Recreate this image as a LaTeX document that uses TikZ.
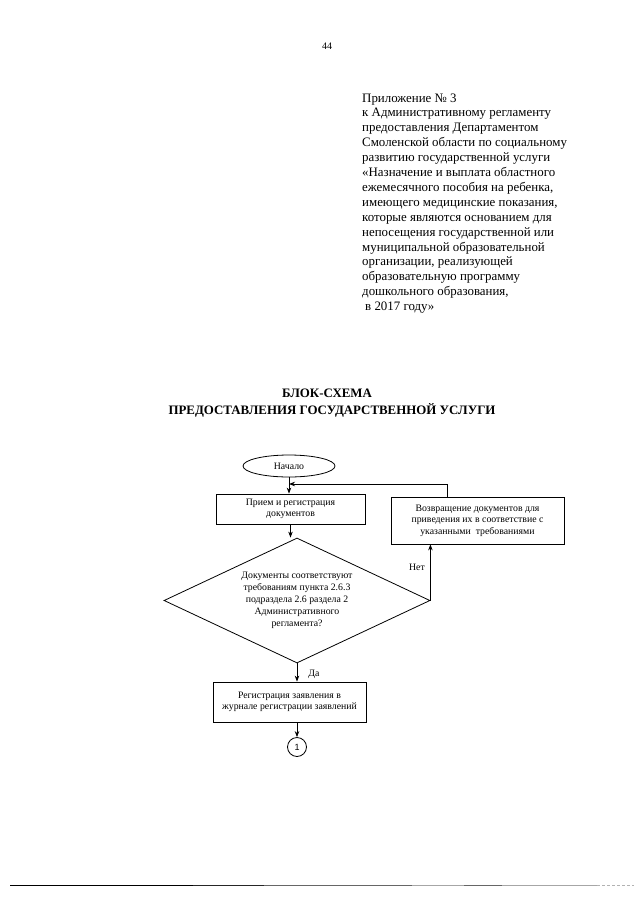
\documentclass[tikz,border=0pt]{standalone}
\usepackage{fontspec}
\setmainfont{Liberation Serif}
\newfontfamily\arialfont{Liberation Sans}
\usetikzlibrary{shapes.geometric,arrows.meta}
\tikzset{
  apx/.style={anchor=base west,inner sep=0,font=\fontsize{12.9}{14.9}\selectfont},
  ttl/.style={anchor=base,inner sep=0,font=\fontsize{12.9}{15}\selectfont\bfseries},
  blk/.style={draw,line width=0.8pt,align=center,inner sep=0,font=\fontsize{9.8}{11.5}\selectfont},
  lbl/.style={inner sep=0,font=\fontsize{9.8}{11.5}\selectfont},
  arr/.style={line width=0.8pt,-{Stealth[length=6pt,width=4.5pt]}},
}
\begin{document}
\begin{tikzpicture}[x=1pt,y=-1pt]
\useasboundingbox[fill=white] (0,0) rectangle (640,905);
% page number
\node[anchor=base,inner sep=0,font=\fontsize{10}{12}\selectfont] (pg) at (327,49) {44};
% appendix text
\foreach \t [count=\i from 0] in {{Приложение № 3},{к Административному регламенту},{предоставления Департаментом},{Смоленской области по социальному},{развитию государственной услуги},{«Назначение и выплата областного},{ежемесячного пособия на ребенка,},{имеющего медицинские показания,},{которые являются основанием для},{непосещения государственной или},{муниципальной образовательной},{организации, реализующей},{образовательную программу},{дошкольного образования,},{\hspace{3pt}в 2017 году»}}
  \node[apx] (a\i) at (362,{102+14.9*\i}) {\t};
% title
\node[ttl] (t1) at (327,397) {БЛОК-СХЕМА};
\node[ttl] (t2) at (332,414) {ПРЕДОСТАВЛЕНИЯ ГОСУДАРСТВЕННОЙ УСЛУГИ};
% flowchart
\node[draw,ellipse,line width=0.8pt,minimum width=92,minimum height=22,inner sep=0,font=\fontsize{9.8}{11.5}\selectfont] (e) at (289,466) {Начало};
\node[blk,minimum width=149,minimum height=30] (b1) at (290.5,509) {Прием и регистрация\\документов};
\node[blk,minimum width=173,minimum height=47] (b2) at (477.5,520.5) {Возвращение документов для\\приведения их в соответствие с\\указанными\ \ требованиями};
\node[draw,diamond,line width=0.8pt,shape aspect=2.1,minimum width=266,minimum height=125,inner sep=0,align=center,font=\fontsize{9.8}{12}\selectfont] (d) at (297,600.5) {Документы соответствуют\\требованиям пункта 2.6.3\\подраздела 2.6 раздела 2\\Административного\\регламента?};
\node[blk,minimum width=153,minimum height=40] (b3) at (289.5,702) {Регистрация заявления в\\журнале регистрации заявлений};
\node[draw,circle,line width=0.8pt,minimum size=19,inner sep=0,font=\arialfont\fontsize{9}{10}\selectfont] (c) at (297,747) {1};
\coordinate (rt) at (447,484);
\draw[arr] (e.south) -- (e.south |- b1.north);
\draw[arr] (rt |- b2.north) -- (rt) -- (rt -| e.south);
\draw[arr] (b1.south) -- (b1.south |- d.north);
\draw[arr] (d.east) -- (d.east |- b2.south);
\draw[arr] (d.south) -- (d.south |- b3.north);
\draw[arr] (d.south |- b3.south) -- (c.north);
\node[lbl,anchor=center] (no) at (417,567) {Нет};
\node[lbl,anchor=center] (yes) at (314,674) {Да};
% bottom rule
\draw[line width=1pt,black] (10,885) -- (193,885);
\draw[line width=1pt,black!85] (193,885) -- (264,885);
\draw[line width=0.9pt,black!60] (264,885) -- (412,885);
\draw[line width=0.9pt,black!35] (412,885) -- (464,885);
\draw[line width=0.9pt,black!60] (464,885) -- (502,885);
\draw[line width=0.9pt,black!35] (502,885) -- (597,885);
\draw[line width=0.8pt,black!30,dash pattern=on 3pt off 2pt] (597,885) -- (634,885);
\end{tikzpicture}
\end{document}
